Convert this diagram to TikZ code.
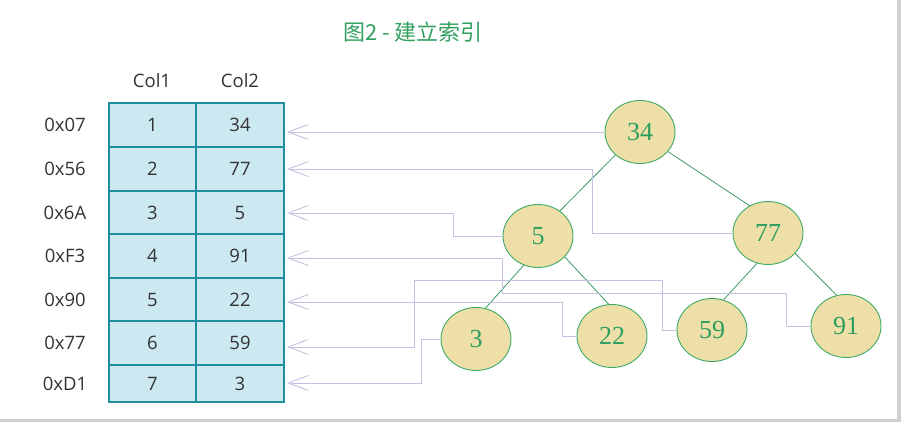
\documentclass[tikz,border=0pt]{standalone}
\usepackage{fontspec}
\setmainfont{Open Sans}
\newfontfamily\cjkfont{Noto Sans CJK SC}
\newfontfamily\numfont{Liberation Serif}
\usetikzlibrary{shapes.geometric,arrows.meta}
\definecolor{titlegreen}{HTML}{33A060}
\definecolor{nodetext}{HTML}{2E9E60}
\definecolor{nodefill}{HTML}{EEDFA8}
\definecolor{nodeline}{HTML}{3DAA66}
\definecolor{cellfill}{HTML}{CCE8F1}
\definecolor{cellline}{HTML}{1F8E9E}
\definecolor{connline}{HTML}{C2C2E2}
\definecolor{edgeline}{HTML}{3C9C64}
\definecolor{textgray}{HTML}{333333}
\definecolor{framegray}{HTML}{D0D0D0}
\tikzset{
  treenode/.style={ellipse, draw=nodeline, line width=0.9pt, fill=nodefill,
    minimum width=70pt, minimum height=63pt, inner sep=0pt,
    text=nodetext, font=\numfont\fontsize{26}{26}\selectfont},
  cell/.style={rectangle, draw=cellline, line width=1.4pt, fill=cellfill,
    inner sep=0pt, text=textgray, font=\fontsize{18.5}{18.5}\selectfont},
  lbl/.style={text=textgray, font=\fontsize{18.5}{18.5}\selectfont, inner sep=0pt},
  conn/.style={draw=connline, line width=0.9pt, -{Straight Barb[length=20pt,width=15pt]}},
  edge/.style={draw=edgeline, line width=0.8pt}
}
\begin{document}
\begin{tikzpicture}[x=1pt,y=-1pt]
\useasboundingbox (0,0) rectangle (901,422);
\fill[white] (0,0) rectangle (901,422);
\fill[framegray] (897,0) rectangle (901,422);
\fill[framegray] (0,419) rectangle (901,422);
% title
\node[text=titlegreen, font=\cjkfont\fontsize{22}{22}\selectfont, inner sep=0pt] (title) at (413,32) {图2 - 建立索引};
% column headers
\node[lbl] (h1) at (152,81) {Col1};
\node[lbl] (h2) at (240,81) {Col2};
% table cells
\foreach \i/\top/\bot/\a/\b/\hx in {1/103/147/1/34/0x07, 2/147/191/2/77/0x56, 3/191/234/3/5/0x6A, 4/234/278/4/91/0xF3, 5/278/321/5/22/0x90, 6/321/365/6/59/0x77, 7/365/402/7/3/0xD1}{
  \pgfmathsetmacro{\cy}{(\top+\bot)/2}
  \pgfmathsetmacro{\hh}{\bot-\top}
  \node[cell, minimum width=87pt, minimum height=\hh pt] (c\i) at (152.5,\cy) {\a};
  \node[cell, minimum width=88pt, minimum height=\hh pt] (r\i) at (240,\cy) {\b};
  \node[lbl] (x\i) at (65,\cy) {\hx};
}
% arrow tips
\coordinate (a1) at (287,132);
\coordinate (a2) at (287,169);
\coordinate (a3) at (287,213);
\coordinate (a4) at (287,258);
\coordinate (a5) at (287,302);
\coordinate (a6) at (287,347);
\coordinate (a7) at (287,383);
% tree nodes
\node[treenode] (n34) at (640,132) {34};
\node[treenode] (n77) at (768,233) {77};
\node[treenode] (n5) at (538,236) {5};
\node[treenode] (n3) at (476,339) {3};
\node[treenode] (n22) at (612,336) {22};
\node[treenode] (n59) at (712,330) {59};
\node[treenode] (n91) at (846,326) {91};
% tree edges
\draw[edge] (n34.223) -- (n5.49);
\draw[edge] (n34.-35) -- (n77.124);
\draw[edge] (n5.244) -- (n3.73);
\draw[edge] (n5.-38) -- (n22.96);
\draw[edge] (n77.-110) -- (n59.69);
\draw[edge] (n77.-37) -- (n91.107);
% index connectors
\draw[conn] (n34.west) -- (a1);
\draw[conn] (n77.west) -- ++(-140,0) |- (a2);
\draw[conn] (n5.west) -- ++(-49.5,0) |- (a3);
\draw[conn] (n91.west) -- ++(-24,0) |- (502,293) |- (a4);
\draw[conn] (n22.west) -- ++(-14,0) |- (a5);
\draw[conn] (n59.west) -- ++(-14,0) |- (414,280) |- (a6);
\draw[conn] (n3.west) -- ++(-19,0) |- (a7);
\end{tikzpicture}
\end{document}
